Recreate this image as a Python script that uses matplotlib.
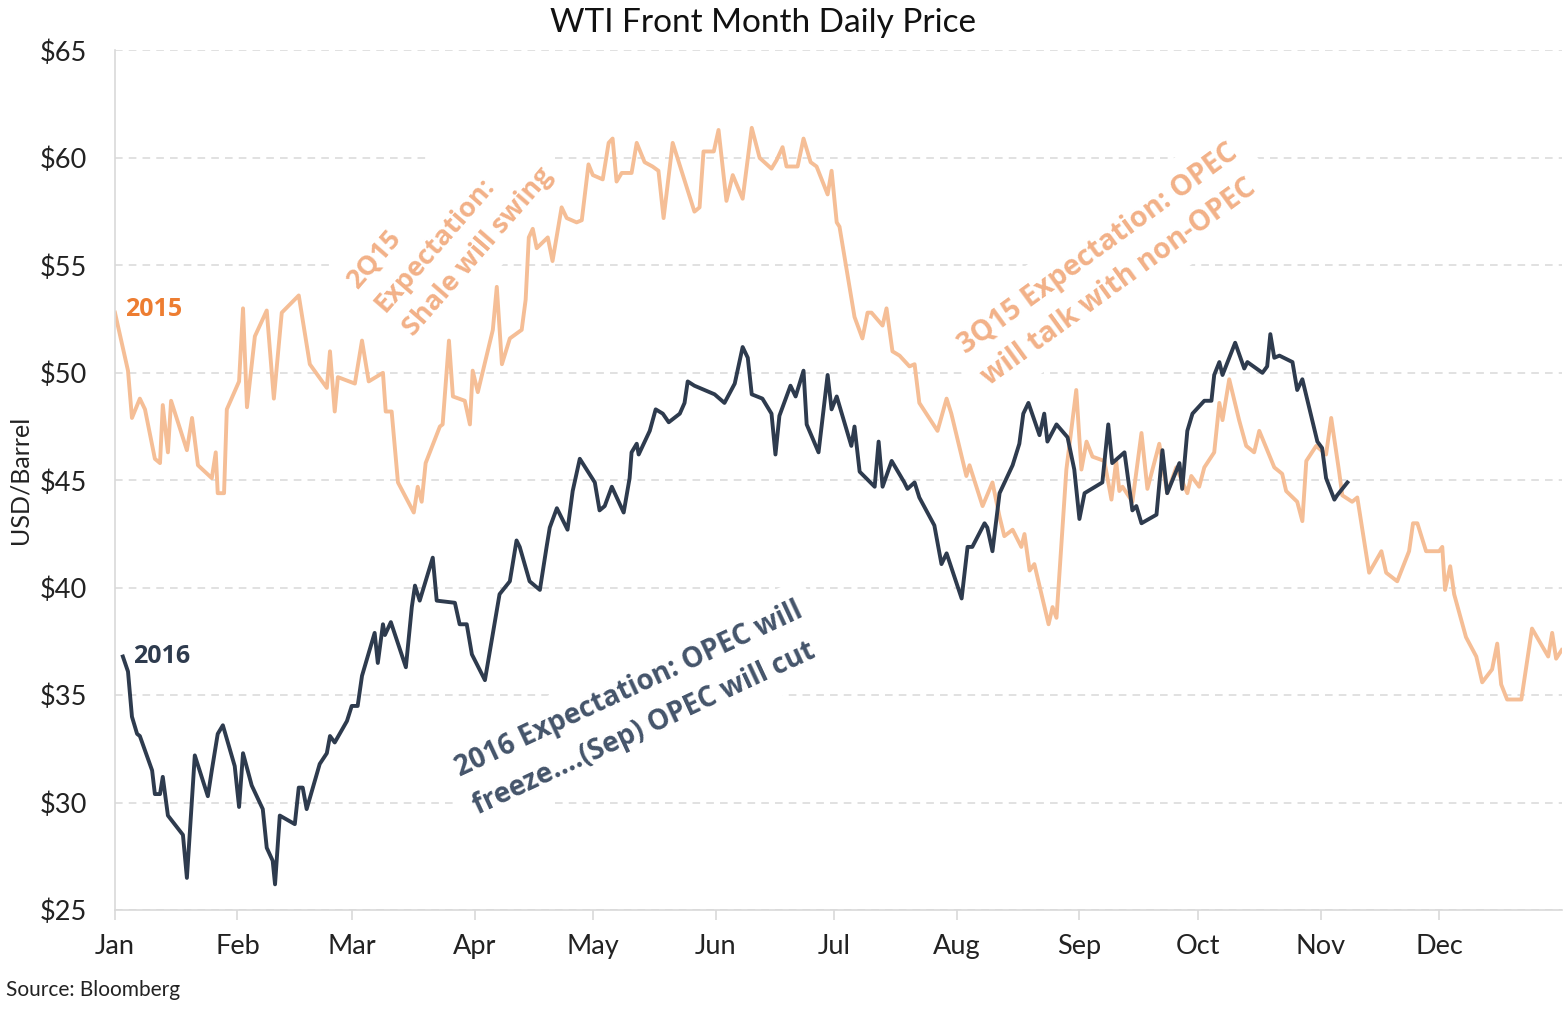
"""
WTI front month daily price: 2015 vs 2016
"""

import matplotlib
matplotlib.use('Agg')
import matplotlib.pyplot as plt
import numpy as np

plt.rcParams['font.family'] = ['Lato', 'DejaVu Sans']
BOLD = ['Open Sans', 'DejaVu Sans']

# day of year (0 = 1 Jan) and price
days_2015 = [0.0, 3.3, 4.3, 6.3, 7.6, 10.1, 11.4, 12.1, 13.4, 14.2, 18.2, 19.5, 21.0, 24.5, 25.5, 26.0,
             27.6, 28.3, 31.4, 32.4, 33.4, 35.4, 38.4, 40.2, 42.2, 46.5, 49.3, 53.6, 54.4, 55.6, 56.4,
             60.7, 62.5, 64.2, 67.8, 68.5, 70.0, 71.6, 75.6, 76.6, 77.6, 78.6, 82.2, 82.9, 84.5, 85.5,
             88.5, 89.8, 90.5, 91.8, 95.6, 96.6, 97.9, 99.9, 102.9, 103.9, 104.7, 105.7, 106.7, 109.5,
             110.7, 113.0, 114.3, 116.8, 118.1, 119.8, 120.9, 123.4, 124.9, 125.9, 126.9, 128.2, 130.7,
             132.0, 134.0, 136.0, 137.5, 138.8, 141.1, 146.6, 147.9, 148.9, 151.5, 152.7, 154.7, 156.3,
             158.8, 161.1, 163.1, 166.1, 167.4, 168.9, 169.9, 172.7, 174.2, 176.0, 177.5, 180.3, 181.3,
             182.6, 183.3, 187.1, 189.1, 190.4, 191.4, 194.2, 195.2, 196.7, 198.5, 201.0, 202.3, 203.5,
             208.1, 210.4, 211.6, 215.4, 216.2, 219.5, 222.0, 223.8, 225.0, 227.1, 229.3, 230.1, 231.4,
             232.6, 236.2, 237.2, 238.2, 240.7, 243.2, 244.5, 245.8, 247.3, 250.3, 252.1, 253.3, 254.1,
             254.9, 257.4, 259.7, 261.2, 264.2, 266.2, 268.5, 271.3, 272.3, 274.3, 275.6, 278.1, 279.4,
             280.2, 281.9, 284.4, 286.2, 288.2, 289.5, 293.3, 295.3, 296.3, 299.1, 300.4, 301.4, 303.9,
             306.4, 307.7, 309.7, 310.5, 313.0, 314.3, 317.3, 320.4, 321.6, 324.4, 327.4, 328.4, 329.5,
             331.7, 335.0, 335.8, 336.5, 337.8, 338.8, 341.8, 344.4, 345.9, 348.4, 349.7, 350.7, 352.2,
             355.8, 358.5, 362.6, 363.6, 364.6, 366.0]
price_2015 = [52.8, 50.1, 47.9, 48.8, 48.3, 46.0, 45.8, 48.5, 46.3, 48.7, 46.4, 47.9, 45.7, 45.1, 46.3, 44.4,
              44.4, 48.3, 49.6, 53.0, 48.4, 51.7, 52.9, 48.8, 52.8, 53.6, 50.4, 49.3, 51.0, 48.2, 49.8,
              49.5, 51.5, 49.6, 50.0, 48.2, 48.2, 44.9, 43.5, 44.7, 44.0, 45.8, 47.5, 47.6, 51.5, 48.9,
              48.7, 47.6, 50.1, 49.1, 52.0, 54.0, 50.4, 51.6, 52.0, 53.4, 56.3, 56.7, 55.8, 56.3,
              55.2, 57.7, 57.2, 57.0, 57.1, 59.7, 59.2, 59.0, 60.7, 60.9, 58.9, 59.3, 59.3,
              60.7, 59.8, 59.6, 59.4, 57.2, 60.7, 57.5, 57.7, 60.3, 60.3, 61.3, 58.0, 59.2,
              58.1, 61.4, 60.0, 59.5, 59.9, 60.5, 59.6, 59.6, 60.9, 59.8, 59.6, 58.3, 59.4,
              57.0, 56.8, 52.6, 51.6, 52.8, 52.8, 52.2, 53.0, 51.0, 50.8, 50.3, 50.4, 48.6,
              47.3, 48.8, 48.1, 45.2, 45.7, 43.8, 44.9, 43.3, 42.4, 42.7, 41.9, 42.5, 40.8,
              41.1, 38.3, 39.1, 38.6, 45.5, 49.2, 45.5, 46.8, 46.1, 45.9, 44.1, 45.9, 44.5,
              44.7, 44.0, 47.2, 44.6, 46.7, 44.4, 45.6, 44.4, 45.2, 44.7, 45.6, 46.3, 48.6,
              47.8, 49.7, 47.8, 46.6, 46.3, 47.3, 45.6, 45.3, 44.5, 44.0, 43.1, 45.9, 46.6,
              46.2, 47.9, 45.4, 44.3, 44.0, 44.2, 40.7, 41.7, 40.7, 40.3, 41.7, 43.0, 43.0,
              41.7, 41.7, 41.9, 39.9, 41.0, 39.7, 37.7, 36.8, 35.6, 36.2, 37.4, 35.5, 34.8,
              34.8, 38.1, 36.8, 37.9, 36.7, 37.1]

days_2016 = [2.0, 3.3, 4.3, 5.6, 6.3, 9.4, 10.1, 11.4, 12.1, 13.4, 17.2, 18.2, 20.2, 23.5, 24.5, 26.0,
             27.3, 30.3, 31.4, 32.4, 34.6, 37.4, 38.4, 39.9, 40.5, 41.7, 45.5, 46.5, 47.5, 48.5, 51.8,
             53.6, 54.4, 55.6, 58.7, 59.9, 61.4, 62.5, 65.7, 66.5, 67.8, 68.3, 69.8, 73.6, 75.1, 75.9,
             77.1, 80.4, 81.4, 86.0, 87.2, 89.0, 90.3, 93.6, 94.8, 97.3, 99.9, 101.6, 102.4, 104.9,
             107.5, 109.2, 110.0, 111.8, 114.5, 115.8, 117.6, 121.4, 122.6, 123.9, 125.7, 128.7, 130.2,
             130.7, 132.0, 132.5, 135.3, 136.8, 138.6, 140.1, 142.9, 144.1, 144.9, 146.6, 151.7, 154.2,
             156.8, 158.8, 160.1, 161.1, 163.8, 166.1, 167.1, 168.1, 170.9, 172.2, 174.2, 175.0, 178.0,
             180.3, 181.3, 182.6, 186.3, 187.1, 188.4, 192.2, 193.2, 194.2, 196.5, 199.7, 200.5, 202.3,
             203.5, 207.3, 209.1, 210.4, 214.2, 215.7, 216.9, 220.0, 220.7, 222.0, 223.8, 227.1, 228.8,
             229.8, 231.1, 233.9, 235.1, 235.9, 238.2, 241.0, 242.7, 244.0, 245.3, 249.8, 251.3, 252.3,
             255.4, 257.4, 258.4, 259.7, 263.5, 265.0, 266.2, 269.3, 270.0, 271.3, 272.6, 275.6, 277.4,
             278.1, 279.4, 280.2, 283.4, 285.7, 286.5, 290.3, 291.5, 292.3, 293.3, 294.6, 297.9, 299.1,
             300.4, 304.2, 305.4, 306.4, 308.5, 309.2, 311.8]
price_2016 = [36.8, 36.1, 34.0, 33.2, 33.1, 31.5, 30.4, 30.4, 31.2, 29.4, 28.5, 26.5, 32.2, 30.3, 31.5, 33.2,
              33.6, 31.7, 29.8, 32.3, 30.8, 29.7, 27.9, 27.3, 26.2, 29.4, 29.0, 30.7, 30.7, 29.7, 31.8,
              32.3, 33.1, 32.8, 33.8, 34.5, 34.5, 35.9, 37.9, 36.5, 38.3, 37.8, 38.4, 36.3, 39.1, 40.1,
              39.4, 41.4, 39.4, 39.3, 38.3, 38.3, 36.9, 35.7, 37.0, 39.7, 40.3, 42.2, 41.9, 40.3,
              39.9, 41.9, 42.8, 43.7, 42.7, 44.5, 46.0, 44.9, 43.6, 43.8, 44.7, 43.5, 45.1,
              46.3, 46.7, 46.2, 47.3, 48.3, 48.1, 47.7, 48.1, 48.6, 49.6, 49.4, 49.0, 48.6,
              49.5, 51.2, 50.7, 49.0, 48.8, 48.1, 46.2, 48.0, 49.4, 48.9, 50.1, 47.6, 46.3,
              49.9, 48.3, 48.9, 46.6, 47.5, 45.4, 44.7, 46.8, 44.7, 45.9, 44.9, 44.6, 44.9,
              44.2, 42.9, 41.1, 41.6, 39.5, 41.9, 41.9, 43.0, 42.8, 41.7, 44.4, 45.7, 46.7,
              48.1, 48.6, 47.1, 48.1, 46.8, 47.6, 47.0, 45.5, 43.2, 44.4, 44.9, 47.6, 45.8,
              46.3, 43.6, 43.8, 43.0, 43.4, 46.4, 44.4, 45.8, 44.6, 47.3, 48.1, 48.7, 48.7,
              49.9, 50.5, 49.9, 51.4, 50.2, 50.5, 50.0, 50.3, 51.8, 50.7, 50.8, 50.5, 49.2,
              49.7, 46.8, 46.5, 45.1, 44.1, 44.3, 44.9]

month_starts = [0, 31, 60, 91, 121, 152, 182, 213, 244, 274, 305, 335]
month_labels = ['Jan', 'Feb', 'Mar', 'Apr', 'May', 'Jun', 'Jul', 'Aug', 'Sep', 'Oct', 'Nov', 'Dec']
y_ticks = [25, 30, 35, 40, 45, 50, 55, 60, 65]

c2015 = '#F5BE96'
c2016 = '#2E3B4E'

fig = plt.figure(figsize=(15.64, 10.09), dpi=100)
ax = fig.add_axes([0.0735, 0.098, 0.925, 0.852])

ax.plot(days_2015, price_2015, color=c2015, lw=2.8, zorder=2)
ax.plot(days_2016, price_2016, color=c2016, lw=2.8, zorder=3)

ax.set_xlim(0, 366)
ax.set_ylim(25, 65)
ax.set_yticks(y_ticks)
ax.set_yticklabels(['$%d' % v for v in y_ticks], fontsize=19.5, color='#222222')
ax.set_xticks(month_starts)
ax.set_xticklabels(month_labels, fontsize=19.5, color='#222222')
ax.tick_params(axis='y', length=0, pad=20)
ax.tick_params(axis='x', length=7, color='#D9D9D9', width=1.2, pad=10)

ax.yaxis.grid(True, color='#D9D9D9', ls=(0, (5, 4)), lw=1.1, zorder=0)
ax.set_axisbelow(True)
for s in ['top', 'right']:
    ax.spines[s].set_visible(False)
for s in ['left', 'bottom']:
    ax.spines[s].set_color('#D9D9D9')
    ax.spines[s].set_linewidth(1.2)

ax.set_ylabel('USD/Barrel', fontsize=18, color='#222222', labelpad=6)
fig.text(0.488, 0.977, 'WTI Front Month Daily Price', ha='center', va='center', fontsize=24, color='#111111')
fig.text(0.004, 0.019, 'Source: Bloomberg', ha='left', va='center', fontsize=15, color='#222222')

# series labels
ax.text(2.5, 52.95, '2015', color='#ED7D31', fontsize=18, fontweight='bold', va='center', family=BOLD)
ax.text(4.5, 36.8, '2016', color=c2016, fontsize=18, fontweight='bold', va='center', family=BOLD)

# annotations, anchored at the start of the last line
# (white box hides the gridlines behind, data lines stay on top)
box = dict(facecolor='white', edgecolor='none', pad=10)
ax.text(73.3, 51.98, '2Q15\nExpectation:\nShale will swing', color='#F2B188', fontsize=19.5,
        fontweight='bold', rotation=49, ha='left', va='baseline', linespacing=1.55,
        rotation_mode='anchor', family=BOLD, bbox=box, zorder=1)
ax.text(219.5, 49.79, '3Q15 Expectation: OPEC\nwill talk with non-OPEC', color='#F2B188', fontsize=20.5,
        fontweight='bold', rotation=36, ha='left', va='baseline', linespacing=1.48,
        rotation_mode='anchor', family=BOLD, bbox=box, zorder=1)
ax.text(90.3, 30.0, '2016 Expectation: OPEC will\nfreeze....(Sep) OPEC will cut', color='#44546A',
        fontsize=20, fontweight='bold', rotation=25, ha='left', va='baseline', linespacing=1.62,
        rotation_mode='anchor', family=BOLD, bbox=box, zorder=1)

fig.savefig('out.png', dpi=100)
